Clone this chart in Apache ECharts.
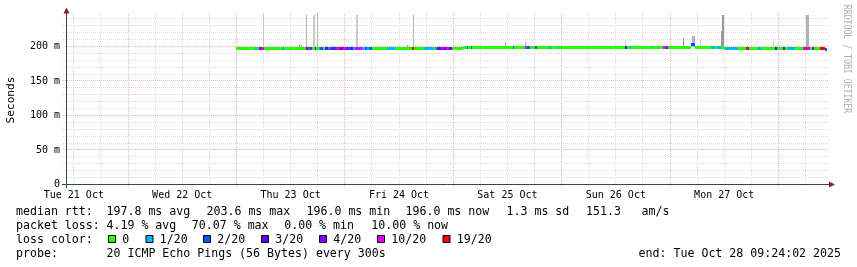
<!DOCTYPE html>
<html><head><meta charset="utf-8">
<script src="https://cdn.jsdelivr.net/npm/echarts@6/dist/echarts.min.js"></script>
<style>html,body{margin:0;padding:0;background:#fff}#c{width:857px;height:267px}</style>
</head><body><div id="c"></div>
<script>
// ---------------- DATA ----------------
// x unit: hours since Tue 21 Oct 00:00
const dayLabels = ['Tue 21 Oct','Wed 22 Oct','Thu 23 Oct','Fri 24 Oct','Sat 25 Oct','Sun 26 Oct','Mon 27 Oct'];
const dayLabelHours = [12, 36, 60, 84, 108, 132, 156];
const yTickValues = [0, 50, 100, 150, 200];
const yTickLabels = ['0', '50 m', '100 m', '150 m', '200 m'];

const lossThresholds = [0, 1, 2, 3, 4, 10, 19];
const lossLabels = ['0', '1/20', '2/20', '3/20', '4/20', '10/20', '19/20'];
const lossColors = ['#26ff00', '#00b8ff', '#0059ff', '#5e00ff', '#7e00ff', '#dd00ff', '#ff0000'];

// median rtt segments: boundaries (hours), median (ms), lost pings of 20
const segBounds = [
  48.0,52.1,52.5,53.0,53.5,54.0,58.1,58.5,63.3,63.8,64.2,64.7,65.3,65.6,66.2,66.5,67.1,67.7,68.2,68.6,
  69.2,69.8,70.3,70.8,71.1,71.7,72.3,72.8,73.3,73.8,74.3,75.8,76.4,76.9,77.4,78.0,81.4,83.1,86.9,87.3,
  89.5,91.5,92.0,92.4,93.2,93.8,94.4,95.1,95.7,
  98.2,99.1,99.3,100.0,100.2,109.2,109.5,111.9,112.4,112.8,113.1,114.2,114.5,117.3,117.6,119.1,119.4,
  134.0,134.4,135.1,135.4,139.7,140.0,142.5,143.1,143.6,148.7,149.6,153.1,154.0,154.4,155.3,
  155.75,156.1,159.1,160.8,161.1,161.5,163.5,164.2,167.3,167.6,169.0,169.5,170.1,171.7,173.5,174.0,
  174.4,175.0,175.4,175.8,177.3,178.3,178.8
];
const segMedian = [
  197.1,197.1,197.1,197.1,197.1,197.1,197.1,197.1,197.1,197.1,197.1,197.1,197.1,197.1,197.1,197.1,197.1,197.1,197.1,197.1,
  197.1,197.1,197.1,197.1,197.1,197.1,197.1,197.1,197.1,197.1,197.1,197.1,197.1,197.1,197.1,197.1,197.1,197.1,197.1,197.1,
  197.1,197.1,197.1,197.1,197.1,197.1,197.1,197.1,197.1,
  198.9,198.9,198.9,198.9,198.9,198.9,198.9,198.9,198.9,198.9,198.9,198.9,198.9,198.9,198.9,198.9,198.9,
  198.9,198.9,198.9,198.9,198.9,198.9,198.9,198.9,198.9,203.6,198.9,198.9,198.9,198.9,198.9,
  196.4,196.4,196.4,196.4,196.4,196.4,196.4,196.4,196.4,196.4,196.4,196.4,196.4,196.4,196.4,196.4,
  196.4,196.4,196.4,196.4,196.4,196.0
];
const segLoss = [
  0,1,0,4,10,0,1,0,3,10,2,0,4,0,1,2,0,3,1,2,
  4,2,10,19,3,10,4,2,3,1,10,1,2,1,2,0,1,0,19,0,
  1,0,1,3,10,4,10,3,0,
  0,2,0,2,0,2,0,10,2,10,0,2,0,1,0,1,0,
  3,0,1,0,1,0,10,4,0,2,0,1,0,1,0,
  0,1,0,10,19,0,1,0,3,0,4,0,1,0,10,19,
  10,0,4,0,19,2
];

// smoke (spread of individual pings)
const smokeStart   = [53.8,61.8,62.2,63.5,64.9,65.8,74.4,85.7,87.2,107.4,111.8,134.1,146.8,148.9,150.7,155.2,155.6,166.8,174.2];
const smokeEnd     = [54.0,62.0,62.4,63.7,65.5,66.0,75.0,85.9,87.4,107.6,112.0,134.3,147.0,149.6,150.9,155.8,156.0,167.0,174.8];
const smokeLow     = [197.1,197.1,197.1,197.1,197.1,197.1,197.1,197.1,197.1,198.9,198.9,198.9,198.9,198.9,198.9,196.4,196.4,196.4,196.4];
const smokeHigh    = [248.0,203.6,202.2,246.1,246.1,248.0,246.1,202.6,246.1,205.5,207.0,209.4,212.3,215.6,209.9,222.5,246.1,208.0,246.1];
const smokeDensity = [1,3,3,2,1,2,1,3,2,2,2,1,3,2,1,3,3,1,2];

const statsRow1 = ['median rtt:', '197.8 ms avg', '203.6 ms max', '196.0 ms min', '196.0 ms now', '1.3 ms sd', '151.3', 'am/s'];
const statsRow2 = ['packet loss:', '4.19 % avg', '70.07 % max', '0.00 % min', '10.00 % now'];
const probeText = ['probe:', '20 ICMP Echo Pings (56 Bytes) every 300s'];
const endText = 'end: Tue Oct 28 09:24:02 2025';
const yAxisTitle = 'Seconds';
const watermark = 'RRDTOOL / TOBI OETIKER';

// ---------------- LAYOUT / STYLE ----------------
const MONO = '"DejaVu Sans Mono", monospace';
const X_MIN = 10.27, X_MAX = 179.2, Y_MIN = 0, Y_MAX = 248.55;
const GRID_MINOR = '#dddddd', GRID_MAJOR = '#f0b0b0';

function lossColor(n) {
  let c = lossColors[0];
  for (let i = 0; i < lossThresholds.length; i++) if (n >= lossThresholds[i]) c = lossColors[i];
  return c;
}
const smokeShades = {1: '#c8c8c8', 2: '#b4b4b4', 3: '#999999'};

const medianData = segMedian.map((m, i) => [segBounds[i], segBounds[i + 1], m, segLoss[i]]);
const smokeData = smokeStart.map((s, i) => [s, smokeEnd[i], smokeLow[i], smokeHigh[i], smokeDensity[i]]);

const vGrid = [];
for (let h = 12; h < X_MAX; h += 6) vGrid.push([h]);
const hGrid = [];
for (let v = 10; v < Y_MAX; v += 10) hGrid.push([v]);

const chart = echarts.init(document.getElementById('c'), null, {renderer: 'canvas'});

const graphics = [];
function txt(x, y, s, opt) {
  opt = opt || {};
  graphics.push({
    type: 'text', x: x, y: y, rotation: opt.rotation || 0, scaleX: opt.scaleX || 1, scaleY: opt.scaleY || 1,
    silent: true, z: 10,
    style: {text: s, font: (opt.size || 11.6) + 'px ' + MONO, fill: opt.color || '#000',
      align: opt.align || 'left', textAlign: opt.align || 'left',
      verticalAlign: 'middle', textVerticalAlign: 'middle'}
  });
}
// stats rows
const row1X = [16, 106.5, 206.5, 306.5, 405.5, 506.5, 586, 641.6];
statsRow1.forEach((s, i) => txt(row1X[i], 211.5, s));
const row2X = [16, 106.5, 191.8, 284.2, 371.3];
statsRow2.forEach((s, i) => txt(row2X[i], 225.5, s));
txt(16, 239.5, 'loss color:');
const boxX = [108, 145.5, 203, 261, 319, 377, 442.5];
lossLabels.forEach((s, i) => {
  graphics.push({type: 'rect', silent: true, z: 10,
    shape: {x: boxX[i] + 0.5, y: 235.5, width: 7, height: 7},
    style: {fill: lossColors[i], stroke: '#000', lineWidth: 1}});
  txt(boxX[i] + 14.3, 239.5, s);
});
txt(16, 253.5, probeText[0]);
txt(106.5, 253.5, probeText[1]);
txt(841, 253.5, endText, {align: 'right'});
// axis title and watermark
txt(11.1, 100, yAxisTitle, {rotation: Math.PI / 2, align: 'center', size: 11.2});
txt(847.3, 59, watermark, {rotation: -Math.PI / 2, align: 'center', size: 8.2, scaleY: 1.35, color: '#b0b0b0'});
// arrows and axis overhangs
graphics.push({type: 'polygon', silent: true, z: 10, shape: {points: [[66.5, 7.5], [63.5, 13.5], [69.5, 13.5]]}, style: {fill: '#961e1e'}});
graphics.push({type: 'polygon', silent: true, z: 10, shape: {points: [[835, 184.5], [829, 181.5], [829, 187.5]]}, style: {fill: '#961e1e'}});
graphics.push({type: 'line', silent: true, z: 10, shape: {x1: 62, y1: 184.5, x2: 67, y2: 184.5}, style: {stroke: '#2c4d43', lineWidth: 1}});
graphics.push({type: 'line', silent: true, z: 10, shape: {x1: 66.5, y1: 184, x2: 66.5, y2: 188}, style: {stroke: '#2c4d43', lineWidth: 1}});

const option = {
  animation: false,
  backgroundColor: '#ffffff',
  grid: {left: 66, right: 28, top: 13, bottom: 82.5, containLabel: false},
  xAxis: {
    type: 'value', min: X_MIN, max: X_MAX,
    axisLine: {show: true, lineStyle: {color: '#2c4d43', width: 1}},
    axisTick: {show: false},
    splitLine: {show: false},
    axisLabel: {
      show: true, customValues: dayLabelHours, margin: 5.5,
      fontFamily: MONO, fontSize: 10, color: '#000',
      formatter: v => { const i = dayLabelHours.indexOf(v); return i >= 0 ? dayLabels[i] : ''; }
    }
  },
  yAxis: {
    type: 'value', min: Y_MIN, max: Y_MAX,
    axisLine: {show: true, lineStyle: {color: '#2c4d43', width: 1}},
    axisTick: {show: false},
    splitLine: {show: false},
    axisLabel: {
      show: true, customValues: yTickValues, margin: 6,
      fontFamily: MONO, fontSize: 10, color: '#000',
      formatter: v => { const i = yTickValues.indexOf(v); return i >= 0 ? yTickLabels[i] : ''; }
    }
  },
  graphic: graphics,
  series: [
    { // vertical grid
      type: 'custom', silent: true, z: 1, data: vGrid, encode: {x: 0},
      renderItem: (params, api) => {
        const h = api.value(0);
        const p = api.coord([h, 0]);
        const cs = params.coordSys;
        const x = Math.floor(p[0]) + 0.5;
        const major = Math.abs(h % 24) < 1e-9;
        return {type: 'line', shape: {x1: x, y1: cs.y, x2: x, y2: cs.y + cs.height + 3},
          style: {stroke: major ? GRID_MAJOR : GRID_MINOR, lineWidth: 1, lineDash: [1, 1]}};
      }
    },
    { // horizontal grid
      type: 'custom', silent: true, z: 1, data: hGrid, encode: {y: 0},
      renderItem: (params, api) => {
        const v = api.value(0);
        const p = api.coord([X_MIN, v]);
        const cs = params.coordSys;
        const y = Math.floor(p[1]) + 0.5;
        const major = Math.abs(v % 50) < 1e-9;
        return {type: 'line', shape: {x1: cs.x - 3, y1: y, x2: cs.x + cs.width, y2: y},
          style: {stroke: major ? GRID_MAJOR : GRID_MINOR, lineWidth: 1, lineDash: [1, 1]}};
      }
    },
    { // smoke
      type: 'custom', silent: true, z: 3, data: smokeData, encode: {x: [0, 1], y: [2, 3]},
      renderItem: (params, api) => {
        const a = api.coord([api.value(0), api.value(3)]);
        const b = api.coord([api.value(1), api.value(2)]);
        const cs = params.coordSys;
        const x0 = Math.round(a[0]);
        const x1 = Math.max(x0 + 1, Math.round(b[0]));
        const yTop = Math.max(cs.y, Math.round(a[1]));
        return {type: 'rect', shape: {x: x0, y: yTop, width: x1 - x0, height: Math.round(b[1]) - yTop},
          style: {fill: smokeShades[api.value(4)]}};
      }
    },
    { // median rtt coloured by loss
      type: 'custom', silent: true, z: 5, data: medianData, encode: {x: [0, 1], y: 2},
      renderItem: (params, api) => {
        const a = api.coord([api.value(0), api.value(2)]);
        const b = api.coord([api.value(1), api.value(2)]);
        const x0 = Math.round(a[0]);
        const x1 = Math.max(x0 + 1, Math.round(b[0]));
        const y0 = Math.round(a[1] - 1.5);
        return {type: 'rect', shape: {x: x0, y: y0, width: x1 - x0, height: 3},
          style: {fill: lossColor(api.value(3))}};
      }
    }
  ]
};
chart.setOption(option);
</script>
</body></html>
